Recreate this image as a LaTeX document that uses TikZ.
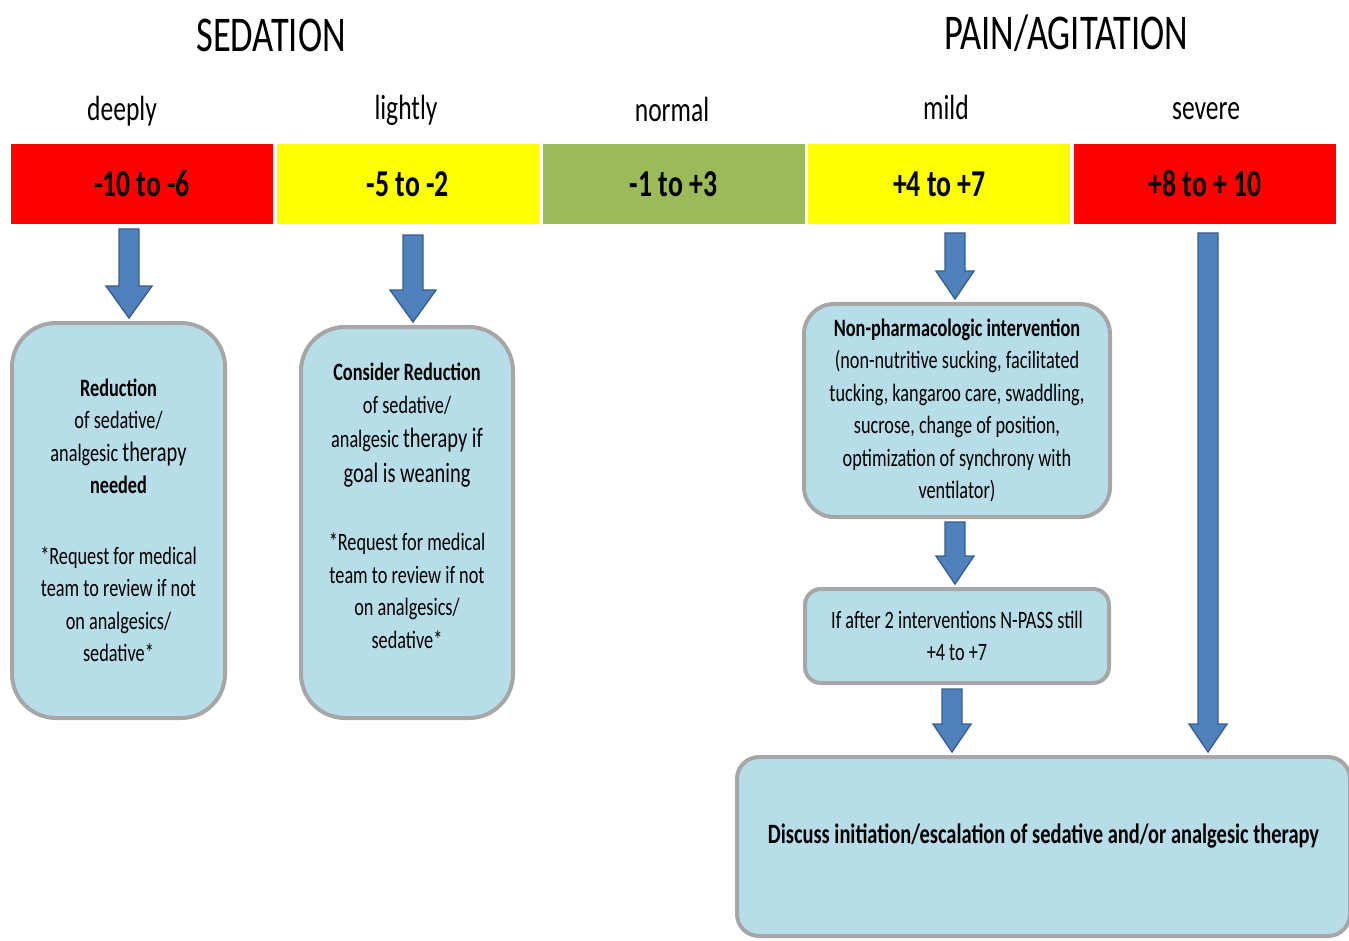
\documentclass[tikz,border=0pt]{standalone}
\usepackage{fontspec}
\setmainfont{Carlito}[FakeStretch=0.73]
\usetikzlibrary{positioning}
\usetikzlibrary{calc}

\definecolor{barred}{HTML}{FF0000}
\definecolor{baryellow}{HTML}{FFFF00}
\definecolor{bargreen}{HTML}{9BBB59}
\definecolor{boxfill}{HTML}{B7DEE8}
\definecolor{boxline}{HTML}{A6A6A6}
\definecolor{arrowfill}{HTML}{4F81BD}
\definecolor{arrowline}{HTML}{3A5F8B}

% block arrow: from, to, half head width, head length
\newcommand{\fatarrow}[4]{%
  \draw [fatarrow] let \p1=(#1), \p2=(#2) in
    (\x1-5pt,\y1) -- (\x1+5pt,\y1) -- (\x1+5pt,\y2+1.5pt+#4) -- (\x1+#3,\y2+1.5pt+#4)
    -- (\x1,\y2+1.5pt) -- (\x1-#3,\y2+1.5pt+#4) -- (\x1-5pt,\y2+1.5pt+#4) -- cycle;}

\begin{document}
\begin{tikzpicture}[x=0.5pt, y=-0.5pt, node distance=1.5pt,
    title/.style={font=\fontsize{25}{30}\selectfont, anchor=base},
    level/.style={font=\fontsize{17.5}{22}\selectfont, anchor=base},
    score/.style={minimum width=131pt, minimum height=40pt, inner sep=0pt,
        font=\fontsize{19}{23}\selectfont\bfseries},
    stepbox/.style={draw=boxline, line width=2pt, fill=boxfill, align=center,
        inner sep=0pt, font=\fontsize{12.5}{16.25}\selectfont},
    fatarrow/.style={fill=arrowfill, draw=arrowline, line width=0.7pt, line join=miter}]
        \useasboundingbox (0,0) rectangle (1349,941);

        \node [title] (sed) at (271,52) {SEDATION};
        \node [title] (pain) at (1066,50) {PAIN/AGITATION};

        \node [score, fill=barred] (s1) at (142,184) {-10 to -6};
        \node [score, fill=baryellow] (s2) [right=of s1] {-5 to -2};
        \node [score, fill=bargreen] (s3) [right=of s2] {-1 to +3};
        \node [score, fill=baryellow] (s4) [right=of s3] {+4 to +7};
        \node [score, fill=barred] (s5) [right=of s4] {+8 to + 10};

        \node [level] (l1) at (122,121) {deeply};
        \node [level] (l2) at (406,120) {lightly};
        \node [level] (l3) at (672,122) {normal};
        \node [level] (l4) at (946,120) {mild};
        \node [level] (l5) at (1206,120) {severe};

        \node [stepbox, minimum width=106.5pt, minimum height=197.5pt, rounded corners=22pt]
            (b1) at (118.5,520.5) {\textbf{Reduction}\\ of sedative/\\
            analgesic {\fontsize{14}{16.25}\selectfont therapy}\\ \textbf{needed}\\[19pt]
            *Request for medical\\ team to review if not\\ on analgesics/\\ sedative*};
        \node [stepbox, minimum width=106pt, minimum height=195.5pt, rounded corners=22pt,
            text depth=17pt]
            (b2) at (407,522.5) {\textbf{Consider Reduction}\\ of sedative/\\[1pt]
            analgesic {\fontsize{14}{16.25}\selectfont therapy if}\\[1pt]
            {\fontsize{14}{16.25}\selectfont goal is weaning}\\[18pt]
            *Request for medical\\ team to review if not\\ on analgesics/\\ sedative*};
        \node [stepbox, minimum width=153pt, minimum height=106.5pt, rounded corners=15pt]
            (b3) at (957,410.5) {\textbf{Non-pharmacologic intervention}\\
            (non-nutritive sucking, facilitated\\ tucking, kangaroo care, swaddling,\\
            sucrose, change of position,\\ optimization of synchrony with\\ ventilator)};
        \node [stepbox, minimum width=152pt, minimum height=47pt, rounded corners=8pt]
            (b4) [below=34pt of b3] {If after 2 interventions N-PASS still\\ +4 to +7};
        \node [stepbox, minimum width=306.5pt, minimum height=89.5pt, rounded corners=11pt,
            text depth=13pt, font=\fontsize{14}{17}\selectfont\bfseries]
            (b5) at (1043.5,846.5) {Discuss initiation/escalation of sedative and/or analgesic therapy};

        \coordinate (a1) at (129,229);
        \coordinate (a2) at (413,235);
        \coordinate (a3) at (955,233);
        \coordinate (a4) at (955,522);
        \coordinate (a5) at (952,689);
        \coordinate (a6) at (1208,233);
        \fatarrow{a1}{a1 |- b1.north}{11.5pt}{16pt}
        \fatarrow{a2}{a2 |- b2.north}{11.5pt}{16pt}
        \fatarrow{a3}{a3 |- b3.north}{9.5pt}{14pt}
        \fatarrow{a4}{a4 |- b4.north}{9.5pt}{14pt}
        \fatarrow{a5}{a5 |- b5.north}{9.5pt}{14pt}
        \fatarrow{a6}{a6 |- b5.north}{9.5pt}{14pt}
    \end{tikzpicture}
\end{document}
